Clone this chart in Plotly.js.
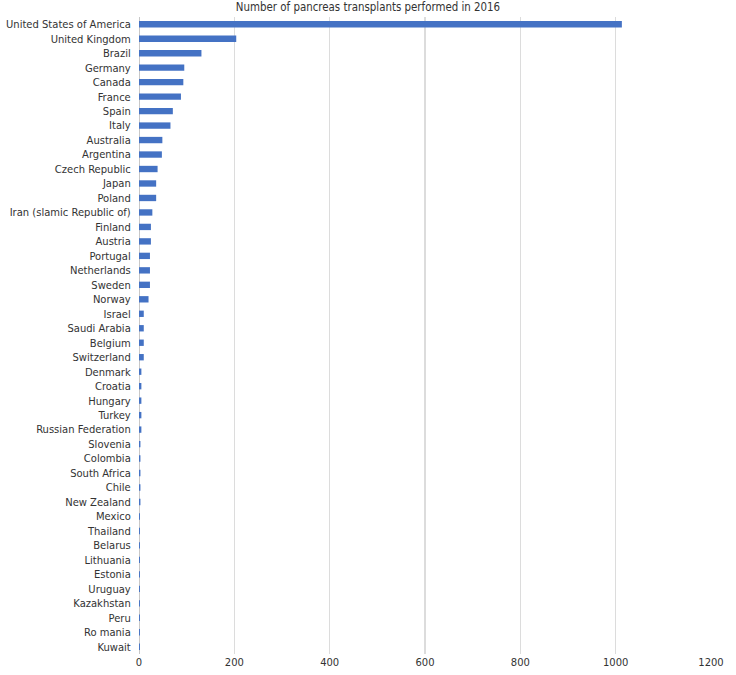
<!DOCTYPE html>
<html>
<head>
<meta charset="utf-8">
<script src="https://cdn.plot.ly/plotly-3.0.1.min.js"></script>
<style>html,body{margin:0;padding:0;background:#fff;}#chart{width:736px;height:675px;}</style>
</head>
<body>
<div id="chart"></div>
<script>
const countries = ["United States of America","United Kingdom","Brazil","Germany","Canada","France","Spain","Italy","Australia","Argentina","Czech Republic","Japan","Poland","Iran (slamic Republic of)","Finland","Austria","Portugal","Netherlands","Sweden","Norway","Israel","Saudi Arabia","Belgium","Switzerland","Denmark","Croatia","Hungary","Turkey","Russian Federation","Slovenia","Colombia","South Africa","Chile","New Zealand","Mexico","Thailand","Belarus","Lithuania","Estonia","Uruguay","Kazakhstan","Peru","Ro mania","Kuwait"];
const transplants = [1013,204,131,95,93,88,71,66,49,48,39,36,36,28,25,25,23,23,23,20,10,10,10,10,5,5,5,5,5,3,3,3,3,3,2,2,2,2,2,2,2,2,2,2];
const xTicks = [0,200,400,600,800,1000,1200];

const fam = "DejaVu Sans Condensed, DejaVu Sans, sans-serif";
const font = {family: fam, size: 11.1, color: "#333333"};

Plotly.newPlot("chart", [{
  type: "bar",
  orientation: "h",
  y: countries,
  x: transplants,
  marker: {color: "#4472C4"},
  hoverinfo: "x+y"
}], {
  width: 736, height: 675,
  margin: {l: 139, r: 25, t: 17, b: 21},
  paper_bgcolor: "#ffffff",
  plot_bgcolor: "#ffffff",
  font: font,
  title: {text: "Number of pancreas transplants performed in 2016", font: {family: fam, size: 11.4, color: "#333333"}, xref: "container", x: 0.5, xanchor: "center", yref: "container", y: 0.995, yanchor: "top"},
  bargap: 0.56,
  showlegend: false,
  xaxis: {
    range: [0, 1200],
    tickvals: xTicks,
    ticktext: xTicks.map(String),
    showgrid: true,
    gridcolor: "#dcdcdc",
    gridwidth: 1.5,
    zeroline: true,
    zerolinecolor: "#c8c8c8",
    zerolinewidth: 1,
    showline: false,
    ticks: "",
    tickfont: font,
    fixedrange: true
  },
  yaxis: {
    categoryorder: "array",
    categoryarray: countries.slice().reverse(),
    autorange: true,
    showgrid: false,
    ticks: "outside",
    ticklen: 5,
    tickcolor: "rgba(0,0,0,0)",
    tickfont: font,
    automargin: false,
    fixedrange: true
  }
}, {displayModeBar: false, staticPlot: true});
</script>
</body>
</html>
